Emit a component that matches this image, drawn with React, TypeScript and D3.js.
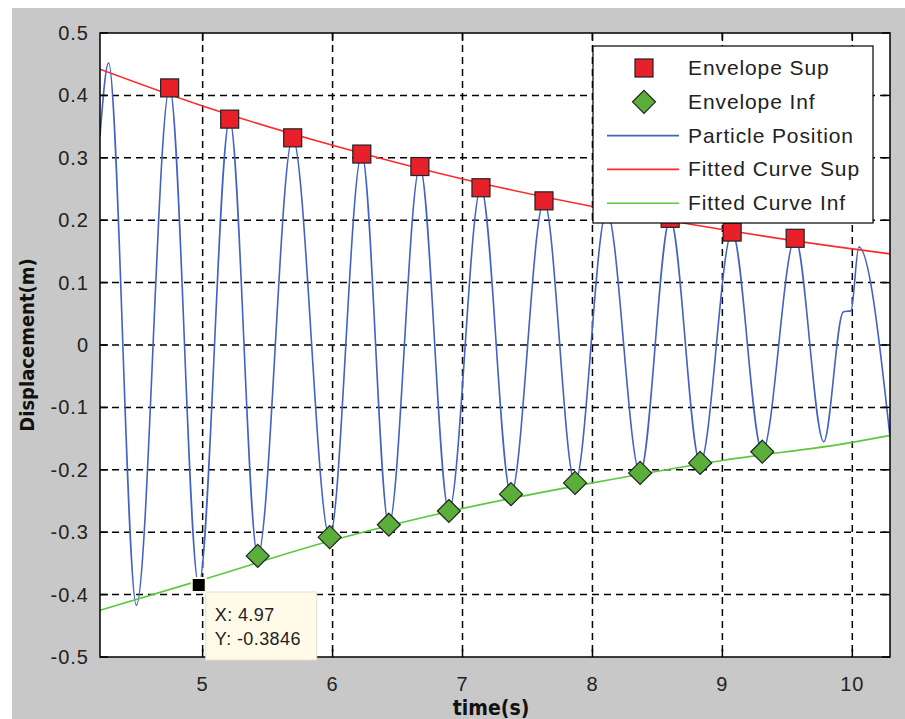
import React from 'react';
import * as d3 from 'd3';

const WIDTH = 905;
const HEIGHT = 719;
const PLOT = { left: 100, right: 890, top: 33, bottom: 657 };

const X_DOMAIN = [4.21, 10.29];
const Y_DOMAIN = [-0.5, 0.5];
const xTicks = [5, 6, 7, 8, 9, 10];
const yTicks = [-0.5, -0.4, -0.3, -0.2, -0.1, 0, 0.1, 0.2, 0.3, 0.4, 0.5];
const yTickLabels = ['-0.5', '-0.4', '-0.3', '-0.2', '-0.1', '0', '0.1', '0.2', '0.3', '0.4', '0.5'];

// particle position: turning points
const positionT = [4.21, 4.276, 4.49, 4.746, 4.97, 5.208, 5.424, 5.693, 5.978, 6.225, 6.433, 6.672, 6.895, 7.142, 7.373, 7.627, 7.866, 8.11, 8.367, 8.598, 8.829, 9.075, 9.307, 9.56, 9.78, 9.93, 9.99, 10.05, 10.29];
const positionY = [0.335, 0.452, -0.417, 0.412, -0.3846, 0.362, -0.338, 0.332, -0.308, 0.306, -0.288, 0.286, -0.266, 0.252, -0.239, 0.231, -0.221, 0.215, -0.205, 0.203, -0.189, 0.181, -0.171, 0.171, -0.155, 0.053, 0.055, 0.157, -0.147];

const supT = [4.746, 5.208, 5.693, 6.225, 6.672, 7.142, 7.627, 8.11, 8.598, 9.075, 9.56];
const supY = [0.412, 0.362, 0.332, 0.306, 0.286, 0.252, 0.231, 0.215, 0.203, 0.181, 0.171];

const infT = [5.424, 5.978, 6.433, 6.895, 7.373, 7.866, 8.367, 8.829, 9.307];
const infY = [-0.338, -0.308, -0.288, -0.266, -0.239, -0.221, -0.205, -0.189, -0.171];

const fitT = [4.21, 5, 6, 7, 8, 9, 10, 10.29];
const fitSupY = [0.442, 0.383, 0.32, 0.266, 0.222, 0.185, 0.154, 0.146];
const fitInfY = [-0.425, -0.376, -0.313, -0.262, -0.221, -0.185, -0.156, -0.145];

const tipX = 4.97;
const tipY = -0.3846;

const COLORS = {
  bg: '#c8c8c8',
  position: '#4262c4',
  fitSup: '#ff2a2a',
  fitInf: '#5cc83c',
  supFill: '#e8202a',
  infFill: '#5aaf3a',
  tipFill: '#fffbe8',
};

const LEGEND = [
  { label: 'Envelope Sup', kind: 'square' },
  { label: 'Envelope Inf', kind: 'diamond' },
  { label: 'Particle Position', kind: 'line', color: COLORS.position },
  { label: 'Fitted Curve Sup', kind: 'line', color: COLORS.fitSup },
  { label: 'Fitted Curve Inf', kind: 'line', color: COLORS.fitInf },
];

const TICK_FONT = "'Liberation Sans', Arial, sans-serif";
const LABEL_FONT = "'Liberation Sans Narrow', 'DejaVu Sans Condensed', 'Liberation Sans', sans-serif";

const diamond = (cx: number, cy: number, r: number) =>
  `M${cx},${cy - r}L${cx + r},${cy}L${cx},${cy + r}L${cx - r},${cy}Z`;

export default function App() {
  const x = d3.scaleLinear().domain(X_DOMAIN).range([PLOT.left, PLOT.right]);
  const y = d3.scaleLinear().domain(Y_DOMAIN).range([PLOT.bottom, PLOT.top]);

  const position = positionT.map((t, i) => [t, positionY[i]] as [number, number]);
  const fitSup = fitT.map((t, i) => [t, fitSupY[i]] as [number, number]);
  const fitInf = fitT.map((t, i) => [t, fitInfY[i]] as [number, number]);

  const posLine = d3.line<[number, number]>().x((d) => x(d[0])).y((d) => y(d[1])).curve(d3.curveMonotoneX);
  const fitLine = d3.line<[number, number]>().x((d) => x(d[0])).y((d) => y(d[1])).curve(d3.curveMonotoneX);

  const tx = x(tipX);
  const ty = y(tipY);

  return (
    <svg width={WIDTH} height={HEIGHT} style={{ position: 'absolute', left: 0, top: 0, background: '#fff' }}>
      <defs>
        <clipPath id="plot-clip">
          <rect x={PLOT.left} y={PLOT.top} width={PLOT.right - PLOT.left} height={PLOT.bottom - PLOT.top} />
        </clipPath>
      </defs>
      <rect x={12} y={8} width={WIDTH - 12} height={HEIGHT - 8} fill={COLORS.bg} />
      <rect x={PLOT.left} y={PLOT.top} width={PLOT.right - PLOT.left} height={PLOT.bottom - PLOT.top} fill="#fff" />

      {/* grid */}
      <g stroke="#000" strokeWidth={1.5} strokeDasharray="7,5">
        {xTicks.map((t) => (
          <line key={'gx' + t} x1={x(t)} x2={x(t)} y1={PLOT.top} y2={PLOT.bottom} />
        ))}
        {yTicks.slice(1, -1).map((t) => (
          <line key={'gy' + t} x1={PLOT.left} x2={PLOT.right} y1={y(t)} y2={y(t)} />
        ))}
      </g>

      <g clipPath="url(#plot-clip)" fill="none">
        <path d={posLine(position) || ''} stroke={COLORS.position} strokeWidth={1.6} />
        <path d={fitLine(fitSup) || ''} stroke={COLORS.fitSup} strokeWidth={1.6} />
        <path d={fitLine(fitInf) || ''} stroke={COLORS.fitInf} strokeWidth={1.6} />
      </g>

      {supT.map((t, i) => (
        <rect key={'s' + i} x={x(t) - 9} y={y(supY[i]) - 9} width={18} height={18}
          fill={COLORS.supFill} stroke="#222" strokeWidth={1.2} />
      ))}
      {infT.map((t, i) => (
        <path key={'d' + i} d={diamond(x(t), y(infY[i]), 11.5)} fill={COLORS.infFill} stroke="#222" strokeWidth={1.2} />
      ))}

      {/* box and inward ticks */}
      <rect x={PLOT.left} y={PLOT.top} width={PLOT.right - PLOT.left} height={PLOT.bottom - PLOT.top}
        fill="none" stroke="#000" strokeWidth={1.5} />
      <g stroke="#000" strokeWidth={1.5}>
        {xTicks.map((t) => (
          <g key={'tx' + t}>
            <line x1={x(t)} x2={x(t)} y1={PLOT.bottom} y2={PLOT.bottom - 8} />
            <line x1={x(t)} x2={x(t)} y1={PLOT.top} y2={PLOT.top + 8} />
          </g>
        ))}
        {yTicks.map((t) => (
          <g key={'ty' + t}>
            <line x1={PLOT.left} x2={PLOT.left + 8} y1={y(t)} y2={y(t)} />
            <line x1={PLOT.right} x2={PLOT.right - 8} y1={y(t)} y2={y(t)} />
          </g>
        ))}
      </g>

      {/* tick labels */}
      <g fontFamily={TICK_FONT} fontSize={20} fill="#222" letterSpacing={1}>
        {xTicks.map((t) => (
          <text key={'lx' + t} x={x(t)} y={691} textAnchor="middle">{t}</text>
        ))}
        {yTicks.map((t, i) => (
          <text key={'ly' + t} x={89} y={y(t) + 7} textAnchor="end">{yTickLabels[i]}</text>
        ))}
      </g>

      {/* axis labels */}
      <text x={491} y={715} textAnchor="middle" fontFamily={LABEL_FONT} fontWeight="bold" fontSize={21} fill="#111">time(s)</text>
      <text transform={`translate(34,${y(0)}) rotate(-90)`} textAnchor="middle" fontFamily={LABEL_FONT}
        fontWeight="bold" fontSize={20} fill="#111">Displacement(m)</text>

      {/* data tip */}
      <rect x={tx + 7} y={592} width={111} height={68} fill={COLORS.tipFill} stroke="#e4e0cc" strokeWidth={1} />
      <rect x={tx - 7} y={ty - 7} width={14} height={14} fill="#000" stroke={COLORS.tipFill} strokeWidth={2} />
      <g fontFamily={TICK_FONT} fontSize={18} fill="#222" letterSpacing={0.4}>
        <text x={tx + 16} y={621}>{`X: ${tipX}`}</text>
        <text x={tx + 16} y={645}>{`Y: ${tipY}`}</text>
      </g>

      {/* legend */}
      <g>
        <rect x={593} y={46} width={280} height={177} fill="#fff" stroke="#000" strokeWidth={1.2} />
        {LEGEND.map((item, i) => {
          const cy = 68 + i * 33.8;
          return (
            <g key={item.label}>
              {item.kind === 'square' && (
                <rect x={635} y={cy - 9} width={18} height={18} fill={COLORS.supFill} stroke="#222" strokeWidth={1.2} />
              )}
              {item.kind === 'diamond' && (
                <path d={diamond(644, cy, 11.5)} fill={COLORS.infFill} stroke="#222" strokeWidth={1.2} />
              )}
              {item.kind === 'line' && (
                <line x1={607} x2={679} y1={cy} y2={cy} stroke={item.color} strokeWidth={1.6} />
              )}
              <text x={688} y={cy + 7} fontFamily={TICK_FONT} fontSize={21} letterSpacing={0.9} fill="#222">
                {item.label}
              </text>
            </g>
          );
        })}
      </g>
    </svg>
  );
}
